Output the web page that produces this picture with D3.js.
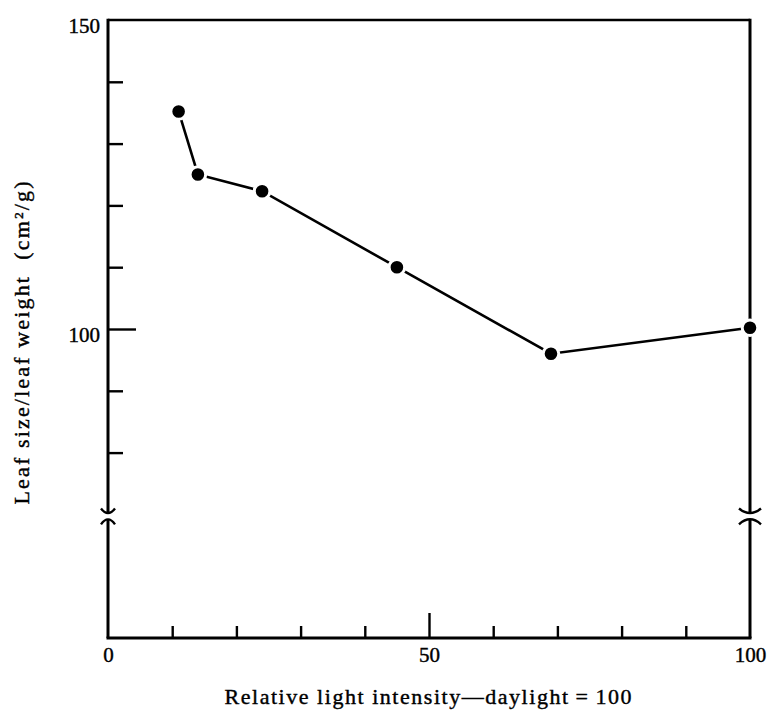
<!DOCTYPE html>
<html>
<head>
<meta charset="utf-8">
<script src="https://cdn.jsdelivr.net/npm/d3@7"></script>
<style>
  body { margin: 0; background: #fff; }
  svg { display: block; }
  text { font-family: "Liberation Serif", "DejaVu Serif", "Times New Roman", serif; fill: #000; }
</style>
</head>
<body>
<div id="chart"></div>
<script>
// light intensity (% of daylight) vs leaf size / leaf weight (cm2/g)
const lightIntensity = [11, 14, 24, 45, 69, 100];
const leafRatio = [135.2, 125, 122.3, 110, 96, 100.2];

const xTicks = [0, 10, 20, 30, 40, 50, 60, 70, 80, 90, 100];
const xLabels = [0, 50, 100];
const yTicks = [150, 140, 130, 120, 110, 100, 90, 80];
const yLabels = [150, 100];

const width = 770;
const height = 711;
const margin = { top: 20, right: 18, bottom: 73, left: 108 };
const serif = 'Liberation Serif, DejaVu Serif, serif';

const svg = d3.select('#chart')
  .append('svg')
  .attr('width', width)
  .attr('height', height);

const x = d3.scaleLinear()
  .domain([0, 100])
  .range([margin.left, width - margin.right - 2]);

const y = d3.scaleLinear()
  .domain([50, 150])
  .range([height - margin.bottom, margin.top]);

const x0 = x(0), x1 = x(100);
const yTop = y(150), yBot = y(50);
const brkTop = y(70.3), brkBot = y(69.2);

// frame: top edge
svg.append('line')
  .attr('x1', x0).attr('x2', x1)
  .attr('y1', yTop).attr('y2', yTop)
  .attr('stroke', '#000').attr('stroke-width', 2.6);

// bottom axis
const xAxisG = svg.append('g')
  .attr('transform', `translate(0, ${yBot})`)
  .call(d3.axisBottom(x)
    .tickValues(xTicks)
    .tickSize(-12)
    .tickPadding(9)
    .tickFormat(d => xLabels.includes(d) ? d : ''));

xAxisG.attr('font-family', serif).attr('font-size', 21);
xAxisG.select('.domain').remove();
xAxisG.selectAll('.tick line')
  .attr('stroke', '#000')
  .attr('stroke-width', 2.4)
  .attr('y2', d => d === 50 ? -25 : (d === 0 || d === 100 ? 0 : -12));
xAxisG.selectAll('.tick text')
  .attr('stroke', '#000')
  .attr('stroke-width', 0.4);

svg.append('line')
  .attr('x1', x0 - 1.5).attr('x2', x1 + 1.5)
  .attr('y1', yBot).attr('y2', yBot)
  .attr('stroke', '#000').attr('stroke-width', 3);

// left axis
const yAxisG = svg.append('g')
  .attr('transform', `translate(${x0}, 0)`)
  .call(d3.axisLeft(y)
    .tickValues(yTicks)
    .tickSize(-15)
    .tickPadding(8)
    .tickFormat(d => yLabels.includes(d) ? d : ''));

yAxisG.attr('font-family', serif).attr('font-size', 21);
yAxisG.select('.domain').remove();
yAxisG.selectAll('.tick line')
  .attr('stroke', '#000')
  .attr('stroke-width', 2.4)
  .attr('x2', d => d === 100 ? 28 : (d === 150 ? 0 : 15));
yAxisG.selectAll('.tick text')
  .attr('dy', '0.58em')
  .attr('stroke', '#000')
  .attr('stroke-width', 0.4);

// vertical axis lines with break marks
function drawSide(xp, hw) {
  svg.append('line')
    .attr('x1', xp).attr('x2', xp)
    .attr('y1', yTop - 1.3).attr('y2', brkTop)
    .attr('stroke', '#000').attr('stroke-width', 3);
  svg.append('line')
    .attr('x1', xp).attr('x2', xp)
    .attr('y1', brkBot).attr('y2', yBot)
    .attr('stroke', '#000').attr('stroke-width', 3);
  svg.append('path')
    .attr('d', `M${xp - hw},${brkTop - 4} Q${xp},${brkTop + 5} ${xp + hw},${brkTop - 4}`)
    .attr('fill', 'none').attr('stroke', '#000').attr('stroke-width', 2.4);
  svg.append('path')
    .attr('d', `M${xp - hw},${brkBot + 5} Q${xp},${brkBot - 5} ${xp + hw},${brkBot + 5}`)
    .attr('fill', 'none').attr('stroke', '#000').attr('stroke-width', 2.4);
}
drawSide(x0, 7);
drawSide(x1, 11);

// data line + dots
const points = lightIntensity.map((v, i) => ({ light: v, ratio: leafRatio[i] }));

svg.append('path')
  .datum(points)
  .attr('d', d3.line().x(d => x(d.light)).y(d => y(d.ratio)))
  .attr('fill', 'none')
  .attr('stroke', '#000')
  .attr('stroke-width', 2.6);

svg.selectAll('circle.pt')
  .data(points)
  .join('circle')
  .attr('class', 'pt')
  .attr('cx', d => x(d.light))
  .attr('cy', d => y(d.ratio))
  .attr('r', 7.8)
  .attr('fill', '#000')
  .attr('stroke', '#fff')
  .attr('stroke-width', 3);

// axis titles
svg.append('text')
  .text('Relative light intensity\u2014daylight\u2009=\u2009100')
  .attr('x', 428)
  .attr('y', 704)
  .attr('text-anchor', 'middle')
  .attr('textLength', 407)
  .attr('lengthAdjust', 'spacing')
  .attr('font-family', serif)
  .attr('font-size', 22)
  .attr('stroke', '#000')
  .attr('stroke-width', 0.4);

svg.append('text')
  .text('Leaf size/leaf weight\u00a0\u00a0(cm\u00b2/g)')
  .attr('transform', 'translate(29, 343) rotate(-90)')
  .attr('text-anchor', 'middle')
  .attr('textLength', 323)
  .attr('lengthAdjust', 'spacing')
  .attr('font-family', serif)
  .attr('font-size', 22)
  .attr('stroke', '#000')
  .attr('stroke-width', 0.4);
</script>
</body>
</html>
